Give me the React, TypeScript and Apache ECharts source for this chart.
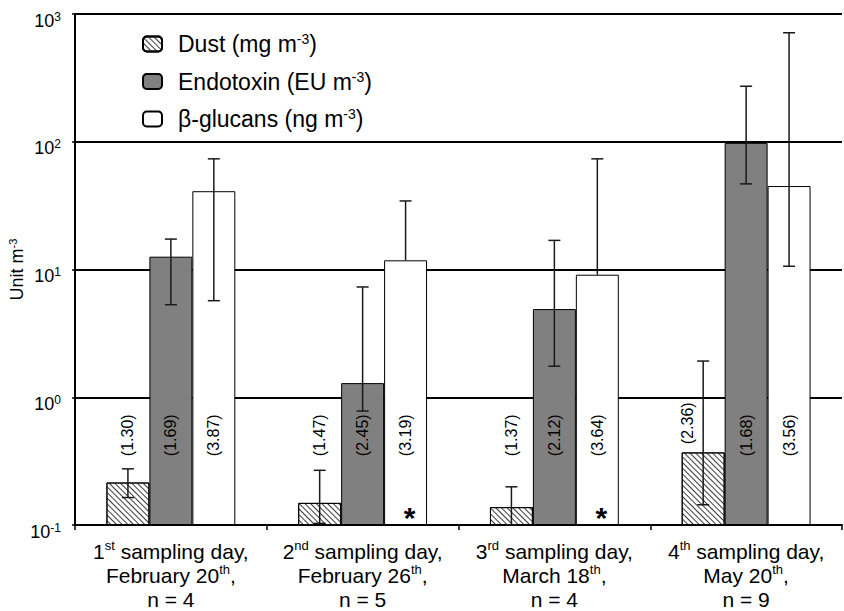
import React, { useEffect, useRef } from 'react';
import * as echarts from 'echarts';

// ---------- data ----------
const dayNumbers = ['1', '2', '3', '4'];
const daySuffixes = ['st', 'nd', 'rd', 'th'];
const dayDates = ['February 20', 'February 26', 'March 18', 'May 20'];
const sampleSizes = [4, 5, 4, 9];
const categories = dayNumbers.map(
  (d, i) => `${d}${daySuffixes[i]} sampling day, ${dayDates[i]}th, n = ${sampleSizes[i]}`
);

const seriesNames = ['Dust (mg m-3)', 'Endotoxin (EU m-3)', 'β-glucans (ng m-3)'];
const seriesLegendText = ['Dust (mg m', 'Endotoxin (EU m', 'β-glucans (ng m'];

const dustValues = [0.215, 0.149, 0.138, 0.37];
const dustLow = [0.164, 0.103, 0.1, 0.144];
const dustHigh = [0.275, 0.268, 0.199, 1.92];
const dustGsd = ['1.30', '1.47', '1.37', '2.36'];

const endotoxinValues = [12.6, 1.29, 4.9, 98];
const endotoxinLow = [5.3, 0.78, 1.75, 46.8];
const endotoxinHigh = [17.3, 7.3, 16.9, 272];
const endotoxinGsd = ['1.69', '2.45', '2.12', '1.68'];

const glucanValues = [41, 11.8, 9.1, 45];
const glucanLow: (number | null)[] = [5.7, null, null, 10.6];
const glucanHigh = [73.5, 34.4, 73.5, 713];
const glucanGsd = ['3.87', '3.19', '3.64', '3.56'];
const glucanSignificant = [false, true, true, false];

const yMin = 0.1;
const yMax = 1000;

// ---------- helpers ----------
const FONT = '"Liberation Sans", Arial, Helvetica, sans-serif';
const CAT_GAP = 0.328;
const allValues = [dustValues, endotoxinValues, glucanValues];
const allLow = [dustLow, endotoxinLow, glucanLow];
const allHigh = [dustHigh, endotoxinHigh, glucanHigh];
const allGsd = [dustGsd, endotoxinGsd, glucanGsd];

function barGeom(api: any, s: number) {
  const c0 = api.coord([0, 1])[0];
  const c1 = api.coord([1, 1])[0];
  const band = c1 - c0;
  const bw = (band * (1 - CAT_GAP)) / 3;
  return { bw, off: (s - 1) * bw };
}

export default function App() {
  const ref = useRef<HTMLDivElement>(null);

  useEffect(() => {
    if (!ref.current) return;
    const chart = echarts.init(ref.current, undefined, { renderer: 'svg' });

    const errorData: number[][] = [];
    const labelData: number[][] = [];
    for (let s = 0; s < 3; s++) {
      for (let i = 0; i < categories.length; i++) {
        const v = allValues[s][i];
        const lo = allLow[s][i];
        errorData.push([i, v, lo == null ? v : lo, allHigh[s][i], s, lo == null ? 0 : 1]);
        labelData.push([i, 1, s]);
      }
    }

    const barColors = ['#ffffff', '#808080', '#ffffff'];

    const barSeries = seriesNames.map((name, s) => ({
      name,
      type: 'bar',
      data: allValues[s],
      barGap: '0%',
      barCategoryGap: `${CAT_GAP * 100}%`,
      z: 2,
      itemStyle: {
        color: barColors[s],
        borderColor: '#000',
        borderWidth: 1,
        ...(s === 0
          ? {
              decal: {
                symbol: 'rect',
                symbolSize: 1,
                dashArrayX: [1, 0],
                dashArrayY: [1, 2.8],
                rotation: Math.PI / 4,
                color: '#3a3a3a',
              },
            }
          : {}),
      },
    }));

    const option: any = {
      animation: false,
      backgroundColor: '#fff',
      grid: { left: 75, right: 2, top: 14, bottom: 86, containLabel: false, outerBoundsMode: 'none' },
      legend: {
        left: 137,
        top: 27,
        orient: 'vertical',
        itemWidth: 19,
        itemHeight: 15,
        itemGap: 14,
        selectedMode: false,
        data: seriesNames,
        formatter: (name: string) => {
          const k = seriesNames.indexOf(name);
          return `{n|${seriesLegendText[k]}}{s|-3}{n|)}`;
        },
        textStyle: {
          color: '#000',
          fontFamily: FONT,
          fontSize: 23,
          padding: [0, 0, 0, 11],
          rich: {
            n: { fontSize: 23, fontFamily: FONT, color: '#000', lineHeight: 24 },
            s: { fontSize: 14, fontFamily: FONT, color: '#000', lineHeight: 14, verticalAlign: 'top' },
          },
        },
      },
      xAxis: {
        type: 'category',
        data: categories,
        boundaryGap: true,
        axisLine: { lineStyle: { color: '#000', width: 2 } },
        axisTick: { show: true, length: 5, lineStyle: { color: '#000', width: 1.5 } },
        axisLabel: {
          margin: 14,
          interval: 0,
          color: '#000',
          fontFamily: FONT,
          formatter: (_v: string, i: number) =>
            `{n|${dayNumbers[i]}}{s|${daySuffixes[i]}}{n| sampling day,}\n` +
            `{n|${dayDates[i]}}{s|th}{n|,}\n` +
            `{n|n = ${sampleSizes[i]}}`,
          rich: {
            n: { fontSize: 21, fontFamily: FONT, color: '#000', lineHeight: 24 },
            s: { fontSize: 13, fontFamily: FONT, color: '#000', lineHeight: 13, verticalAlign: 'top' },
          },
        },
      },
      yAxis: {
        type: 'log',
        logBase: 10,
        min: yMin,
        max: yMax,
        startValue: yMin,
        name: '{n|Unit m}{s|-3}',
        nameLocation: 'middle',
        nameRotate: 90,
        nameGap: 48,
        nameMoveOverlap: false,
        nameTextStyle: {
          rich: {
            n: { fontSize: 18, fontFamily: FONT, color: '#000', lineHeight: 20 },
            s: { fontSize: 11, fontFamily: FONT, color: '#000', lineHeight: 11, verticalAlign: 'top' },
          },
        },
        axisLine: { show: true, lineStyle: { color: '#000', width: 2 } },
        axisTick: { show: true, length: 3, lineStyle: { color: '#000', width: 1.5 } },
        splitLine: { show: true, lineStyle: { color: '#000', width: 2 } },
        minorTick: { show: false },
        axisLabel: {
          margin: 14,
          color: '#000',
          fontFamily: FONT,
          padding: [13, 0, 0, 0],
          formatter: (v: number) => `{b|10}{s|${Math.round(Math.log10(v))}}`,
          rich: {
            b: { fontSize: 18, fontFamily: FONT, color: '#000', lineHeight: 20 },
            s: { fontSize: 12, fontFamily: FONT, color: '#000', lineHeight: 12, verticalAlign: 'top' },
          },
        },
      },
      series: [
        ...barSeries,
        {
          name: 'errors',
          type: 'custom',
          z: 5,
          silent: true,
          encode: { x: 0, y: [1, 3] },
          data: errorData,
          renderItem: (_p: any, api: any) => {
            const i = api.value(0);
            const s = api.value(4);
            const { off } = barGeom(api, s);
            const x = api.coord([i, 1])[0] + off;
            const yLo = api.coord([i, api.value(2)])[1];
            const yHi = api.coord([i, api.value(3)])[1];
            const cap = 6;
            const st = { stroke: '#1a1a1a', lineWidth: 1.5 };
            const children: any[] = [
              { type: 'line', shape: { x1: x, y1: yLo, x2: x, y2: yHi }, style: st },
              { type: 'line', shape: { x1: x - cap, y1: yHi, x2: x + cap, y2: yHi }, style: st },
            ];
            if (api.value(5)) {
              children.push({ type: 'line', shape: { x1: x - cap, y1: yLo, x2: x + cap, y2: yLo }, style: st });
            }
            return { type: 'group', children };
          },
        },
        {
          name: 'labels',
          type: 'custom',
          z: 6,
          silent: true,
          encode: { x: 0, y: 1 },
          data: labelData,
          renderItem: (_p: any, api: any) => {
            const i = api.value(0);
            const s = api.value(2);
            const { off } = barGeom(api, s);
            let x = api.coord([i, 1])[0] + off;
            let y = api.coord([i, 1])[1] + 38;
            // label would sit on an error bar that rises through it: nudge aside
            if (allHigh[s][i] > 0.6 && allValues[s][i] < 0.6) {
              x -= 16;
              y -= 12;
            }
            const children: any[] = [
              {
                type: 'text',
                x,
                y,
                rotation: Math.PI / 2,
                style: {
                  text: `(${allGsd[s][i]})`,
                  fontSize: 16,
                  fontFamily: FONT,
                  fill: '#000',
                  align: 'center',
                  verticalAlign: 'middle',
                },
              },
            ];
            if (s === 2 && glucanSignificant[i]) {
              const yb = api.coord([i, yMin])[1];
              children.push({
                type: 'text',
                x: x + 4,
                y: yb - 8,
                style: {
                  text: '*',
                  fontSize: 30,
                  fontWeight: 'bold',
                  fontFamily: FONT,
                  fill: '#000',
                  align: 'center',
                  verticalAlign: 'middle',
                },
              });
            }
            return { type: 'group', children };
          },
        },
      ],
    };

    chart.setOption(option);
    return () => chart.dispose();
  }, []);

  return <div ref={ref} style={{ width: 844, height: 611, position: 'absolute', left: 0, top: 0 }} />;
}
